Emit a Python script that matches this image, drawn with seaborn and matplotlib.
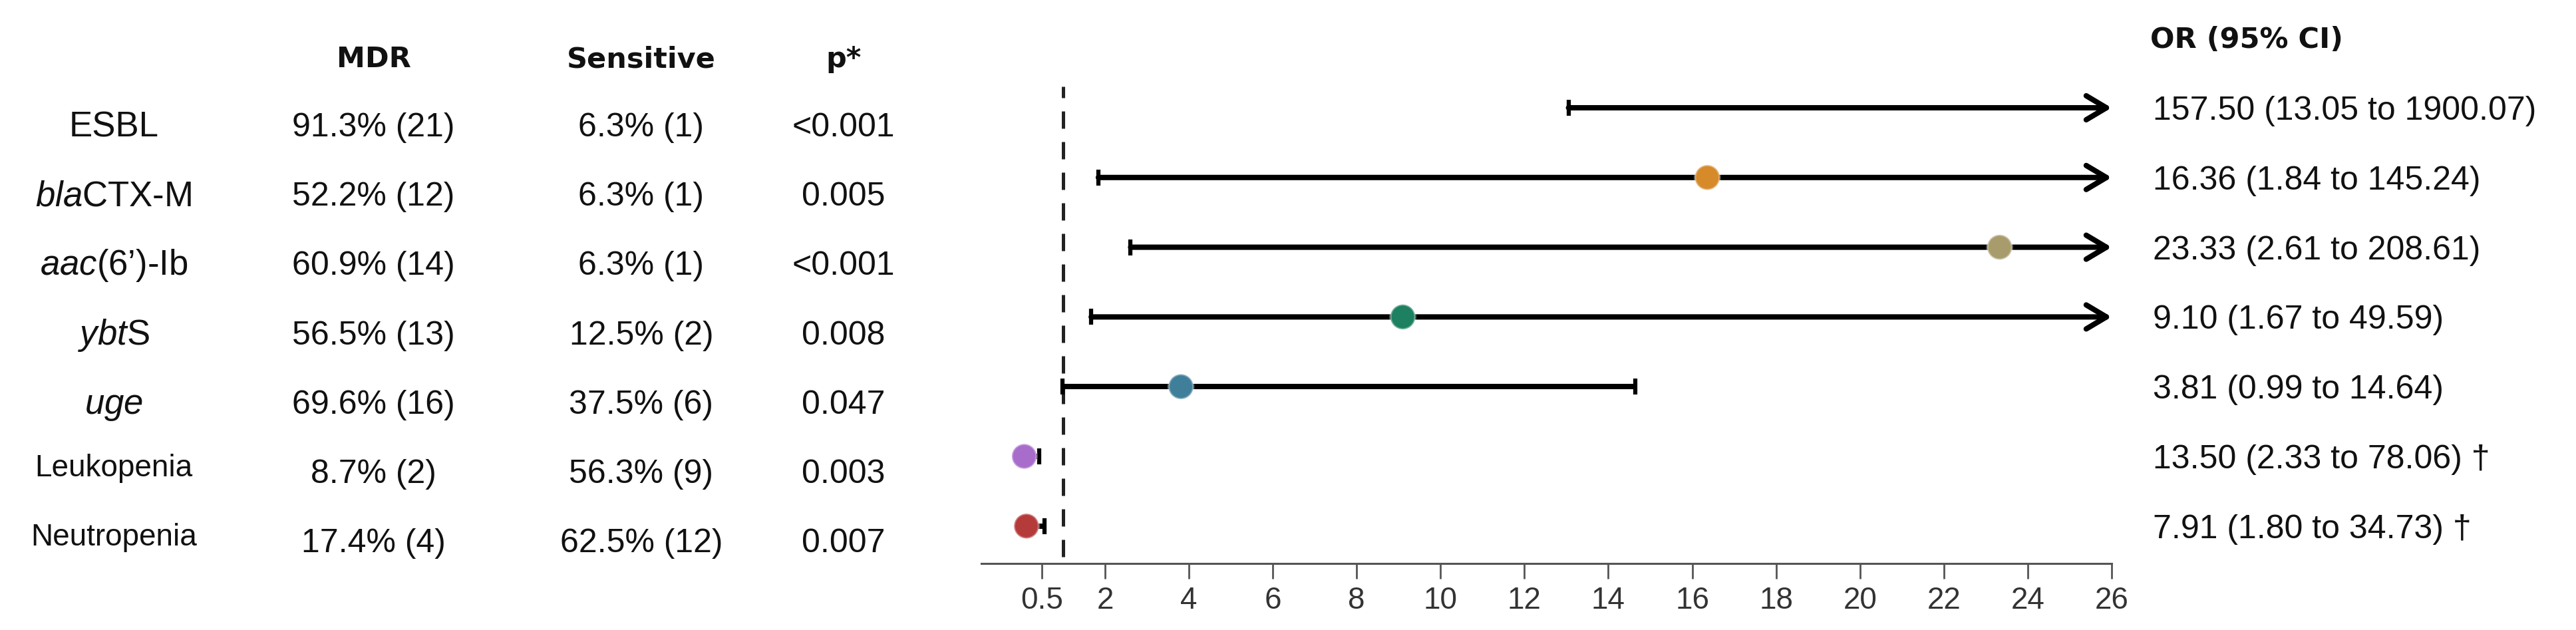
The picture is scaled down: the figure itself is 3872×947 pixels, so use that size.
import numpy as np
import pandas as pd
import matplotlib
matplotlib.use("Agg")
import matplotlib.pyplot as plt
import matplotlib.transforms as mtransforms
import seaborn as sns

# ---------------------------------------------------------------------------
# Data
# ---------------------------------------------------------------------------
ROW_LABELS = ["ESBL", r"$\mathit{bla}$CTX-M", r"$\mathit{aac}$(6’)-Ib",
              r"$\mathit{ybt}$S", r"$\mathit{uge}$", "Leukopenia", "Neutropenia"]
MDR = ["91.3% (21)", "52.2% (12)", "60.9% (14)", "56.5% (13)",
       "69.6% (16)", "8.7% (2)", "17.4% (4)"]
SENSITIVE = ["6.3% (1)", "6.3% (1)", "6.3% (1)", "12.5% (2)",
             "37.5% (6)", "56.3% (9)", "62.5% (12)"]
P_VALUES = ["<0.001", "0.005", "<0.001", "0.008", "0.047", "0.003", "0.007"]
OR_TEXT = ["157.50 (13.05 to 1900.07)", "16.36 (1.84 to 145.24)",
           "23.33 (2.61 to 208.61)", "9.10 (1.67 to 49.59)",
           "3.81 (0.99 to 14.64)", "13.50 (2.33 to 78.06) †",
           "7.91 (1.80 to 34.73) †"]

# plotted odds ratios (the two † rows are drawn as inverse ORs)
OR_PLOT = [157.50, 16.36, 23.33, 9.10, 3.81, 0.074, 0.126]
CI_LOW = [13.05, 1.84, 2.61, 1.67, 0.99, 0.013, 0.029]
CI_HIGH = [1900.07, 145.24, 208.61, 49.59, 14.64, 0.429, 0.556]

MARKER_COLORS = ["#D68A2A", "#D68A2A", "#A89C6C", "#1D8060",
                 "#3F7F9A", "#A86CCB", "#B53A3A"]
X_TICKS = [0.5, 2, 4, 6, 8, 10, 12, 14, 16, 18, 20, 22, 24, 26]
X_MIN, X_MAX = -0.95, 26
NULL_LINE = 1

# ---------------------------------------------------------------------------
# Style
# ---------------------------------------------------------------------------
sns.set_theme(style="white")
plt.rcParams.update({
    "font.family": ["Liberation Sans", "DejaVu Sans"],
    "mathtext.fontset": "custom",
    "mathtext.rm": "Liberation Sans",
    "mathtext.it": "Liberation Sans:italic",
})

W, H = 3873, 947
DPI = 100
fig = plt.figure(figsize=(W / DPI, H / DPI), dpi=DPI)
fig.patch.set_facecolor("white")


def fx(px):
    return px / W


def fy(px):
    return 1 - px / H


# ---------------------------------------------------------------------------
# Forest plot axes
# ---------------------------------------------------------------------------
ax_left, ax_right, ax_top, ax_bottom = 1475, 3174, 110, 847
ax = fig.add_axes([fx(ax_left), fy(ax_bottom),
                   (ax_right - ax_left) / W, (ax_bottom - ax_top) / H])
ax.set_facecolor("white")

n = len(OR_PLOT)
rows = np.arange(n)
row_px0, row_step = 162, 104.8
ax.set_xlim(X_MIN, X_MAX)
ax.set_ylim(n - 1 + (ax_bottom - (row_px0 + (n - 1) * row_step)) / row_step,
            -(row_px0 - ax_top) / row_step)

# null reference line
ymin = (ax_bottom - 837) / (ax_bottom - ax_top)
ymax = (ax_bottom - 130) / (ax_bottom - ax_top)
ax.axvline(NULL_LINE, ymin=ymin, ymax=ymax, color="#222222", lw=3.6,
           linestyle=(0, (5.2, 4.0)), zorder=1)

# confidence intervals
for i in rows:
    lo, hi = CI_LOW[i], CI_HIGH[i]
    ax.plot([lo], [i], marker="|", markersize=17, mew=4.5, color="black",
            zorder=3)
    if hi > X_MAX:
        ax.annotate("", xy=(X_MAX, i), xytext=(lo, i),
                    arrowprops=dict(arrowstyle="->,head_length=0.42,head_width=0.25",
                                    lw=5.8, color="black", shrinkA=0, shrinkB=0,
                                    mutation_scale=52),
                    annotation_clip=False, zorder=3)
    else:
        ax.plot([lo, hi], [i, i], color="black", lw=5.8, zorder=3,
                solid_capstyle="butt")
        ax.plot([hi], [i], marker="|", markersize=17, mew=4.5, color="black",
                zorder=3)

df = pd.DataFrame({"or": OR_PLOT, "row": rows, "label": [str(r) for r in rows]})
sns.scatterplot(data=df, x="or", y="row", hue="label",
                palette=MARKER_COLORS, s=720, edgecolor=(1, 1, 1, 0.35),
                linewidth=2.5, legend=False, zorder=5, ax=ax)

ax.set_xticks(X_TICKS)
ax.set_xticklabels([f"{t:g}" for t in X_TICKS], fontsize=33, color="#333333",
                   family=["Liberation Sans Narrow", "Liberation Sans"])
ax.set_yticks([])
ax.set_xlabel("")
ax.set_ylabel("")
for side in ["top", "right", "left"]:
    ax.spines[side].set_visible(False)
ax.spines["bottom"].set_color("#555555")
ax.spines["bottom"].set_linewidth(2.2)
ax.tick_params(axis="x", direction="out", length=16.5, width=2.0,
               color="#555555", pad=8, bottom=True)

# ---------------------------------------------------------------------------
# Left table
# ---------------------------------------------------------------------------
HEAD_FONT = dict(family=["DejaVu Sans"], fontweight="bold", fontsize=31,
                 color="#111111")
head_base = 101
for x, txt in [(562, "MDR"), (964, "Sensitive"), (1268, "p*")]:
    fig.text(fx(x), fy(head_base), txt, ha="center", va="baseline", **HEAD_FONT)

table_px0, table_step = 187, 104.2
for i in rows:
    base = table_px0 + i * table_step + 18
    small = i >= 5
    fig.text(fx(171), fy(base - (10 if small else 0)), ROW_LABELS[i],
             ha="center", va="baseline", fontsize=33 if small else 38,
             color="#111111")
    fig.text(fx(561), fy(base), MDR[i], ha="center", va="baseline",
             fontsize=36, color="#111111")
    fig.text(fx(964), fy(base), SENSITIVE[i], ha="center", va="baseline",
             fontsize=36, color="#111111")
    fig.text(fx(1268), fy(base), P_VALUES[i], ha="center", va="baseline",
             fontsize=36, color="#111111")

# ---------------------------------------------------------------------------
# Right OR column
# ---------------------------------------------------------------------------
fig.text(fx(3232), fy(72), "OR (95% CI)", ha="left", va="baseline",
         family=["DejaVu Sans"], fontweight="bold", fontsize=31,
         color="#111111")
trans = mtransforms.blended_transform_factory(fig.transFigure, ax.transData)
for i in rows:
    ax.text(fx(3236), i, OR_TEXT[i], transform=trans, ha="left",
            va="center_baseline", family=["Liberation Sans", "DejaVu Sans"],
            fontsize=36, color="#111111")

fig.savefig("out.png", dpi=DPI, facecolor="white")
